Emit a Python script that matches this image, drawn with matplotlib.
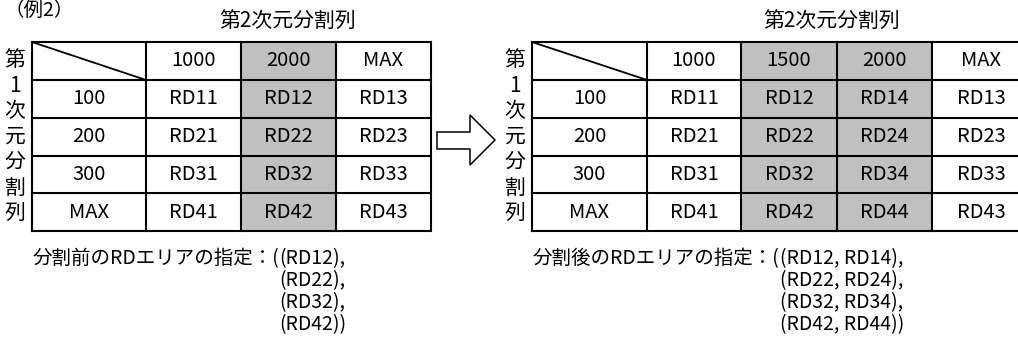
import matplotlib
matplotlib.use("Agg")
import matplotlib.pyplot as plt
from matplotlib.patches import Rectangle, Polygon

plt.rcParams['font.family'] = ['Noto Sans CJK JP', 'DejaVu Sans']

# data
row_heads = ['100', '200', '300', 'MAX']
cols_before = ['1000', '2000', 'MAX']
cells_before = [['RD11', 'RD12', 'RD13'],
                ['RD21', 'RD22', 'RD23'],
                ['RD31', 'RD32', 'RD33'],
                ['RD41', 'RD42', 'RD43']]
shade_before = [1]
cols_after = ['1000', '1500', '2000', 'MAX']
cells_after = [['RD11', 'RD12', 'RD14', 'RD13'],
               ['RD21', 'RD22', 'RD24', 'RD23'],
               ['RD31', 'RD32', 'RD34', 'RD33'],
               ['RD41', 'RD42', 'RD44', 'RD43']]
shade_after = [1, 2]
title2 = '第2次元分割列'
title1 = '第1次元分割列'
spec_before = ['分割前のRDエリアの指定：(', '(RD12),', '(RD22),', '(RD32),', '(RD42))']
spec_after = ['分割後のRDエリアの指定：(', '(RD12, RD14),', '(RD22, RD24),', '(RD32, RD34),', '(RD42, RD44))']

W, H = 1018, 345
fig = plt.figure(figsize=(W / 100, H / 100), dpi=100)
ax = fig.add_axes([0, 0, 1, 1])
ax.set_xlim(0, W)
ax.set_ylim(H, 0)
ax.axis('off')

rows_y = [42, 80, 118, 156, 193, 231]
GRAY = '#c0c0c0'
FS = 14.5
FS_TXT = 15
FS_FOOT = 14


def draw_table(x0, col_x, cols, cells, shade, right_open=False):
    xs = [x0] + col_x
    # shaded columns
    for c in shade:
        ax.add_patch(Rectangle((xs[c + 1], rows_y[0]), xs[c + 2] - xs[c + 1],
                               rows_y[-1] - rows_y[0], fc=GRAY, ec='none', zorder=1))
    lw = 1.5
    for y in rows_y:
        ax.plot([xs[0], xs[-1]], [y, y], color='black', lw=lw, zorder=2,
                solid_capstyle='projecting')
    vx = xs if not right_open else xs[:-1]
    for x in vx:
        ax.plot([x, x], [rows_y[0], rows_y[-1]], color='black', lw=lw, zorder=2,
                solid_capstyle='projecting')
    # diagonal in corner
    ax.plot([xs[0], xs[1]], [rows_y[0], rows_y[1]], color='black', lw=1.3, zorder=2)
    for j, lab in enumerate(cols):
        ax.text((xs[j + 1] + xs[j + 2]) / 2, (rows_y[0] + rows_y[1]) / 2, lab,
                ha='center', va='center', fontsize=FS, zorder=3)
    for i, lab in enumerate(row_heads):
        yc = (rows_y[i + 1] + rows_y[i + 2]) / 2
        ax.text((xs[0] + xs[1]) / 2, yc, lab, ha='center', va='center', fontsize=FS, zorder=3)
        for j, v in enumerate(cells[i]):
            ax.text((xs[j + 1] + xs[j + 2]) / 2, yc, v, ha='center', va='center',
                    fontsize=FS, zorder=3)


def vertical_label(x, y0):
    for k, ch in enumerate(title1):
        ax.text(x, y0 + k * 25.5, ch, ha='center', va='center', fontsize=FS_TXT)


def footer(x, spec):
    line_y = [258, 280, 302, 324]
    renderer = fig.canvas.get_renderer()
    t = ax.text(x, line_y[0], spec[0], ha='left', va='baseline', fontsize=FS_FOOT)
    x2 = x + t.get_window_extent(renderer).width
    for y, s in zip(line_y, spec[1:]):
        ax.text(x2, y + 6, s, ha='left', va='baseline', fontsize=FS_FOOT)
    t.set_y(line_y[0] + 6)


# left table
draw_table(32, [146, 241, 336, 431], cols_before, cells_before, shade_before)
vertical_label(15, 60)
ax.text(288, 21, title2, ha='center', va='center', fontsize=FS_TXT)

# right table (cut at image edge)
draw_table(532, [647, 741, 837, 932, 1030], cols_after, cells_after, shade_after, right_open=True)
vertical_label(515, 60)
ax.text(832, 21, title2, ha='center', va='center', fontsize=FS_TXT)

# arrow
ax.add_patch(Polygon([(437, 132), (470, 132), (470, 115), (495, 140),
                      (470, 165), (470, 149), (437, 149)],
                     closed=True, fc='white', ec='black', lw=1.1))

# example label
ax.text(4, 10, '（例2）', ha='left', va='center', fontsize=FS_FOOT)

footer(33, spec_before)
footer(533, spec_after)

fig.savefig('out.png', dpi=100, facecolor='white')
